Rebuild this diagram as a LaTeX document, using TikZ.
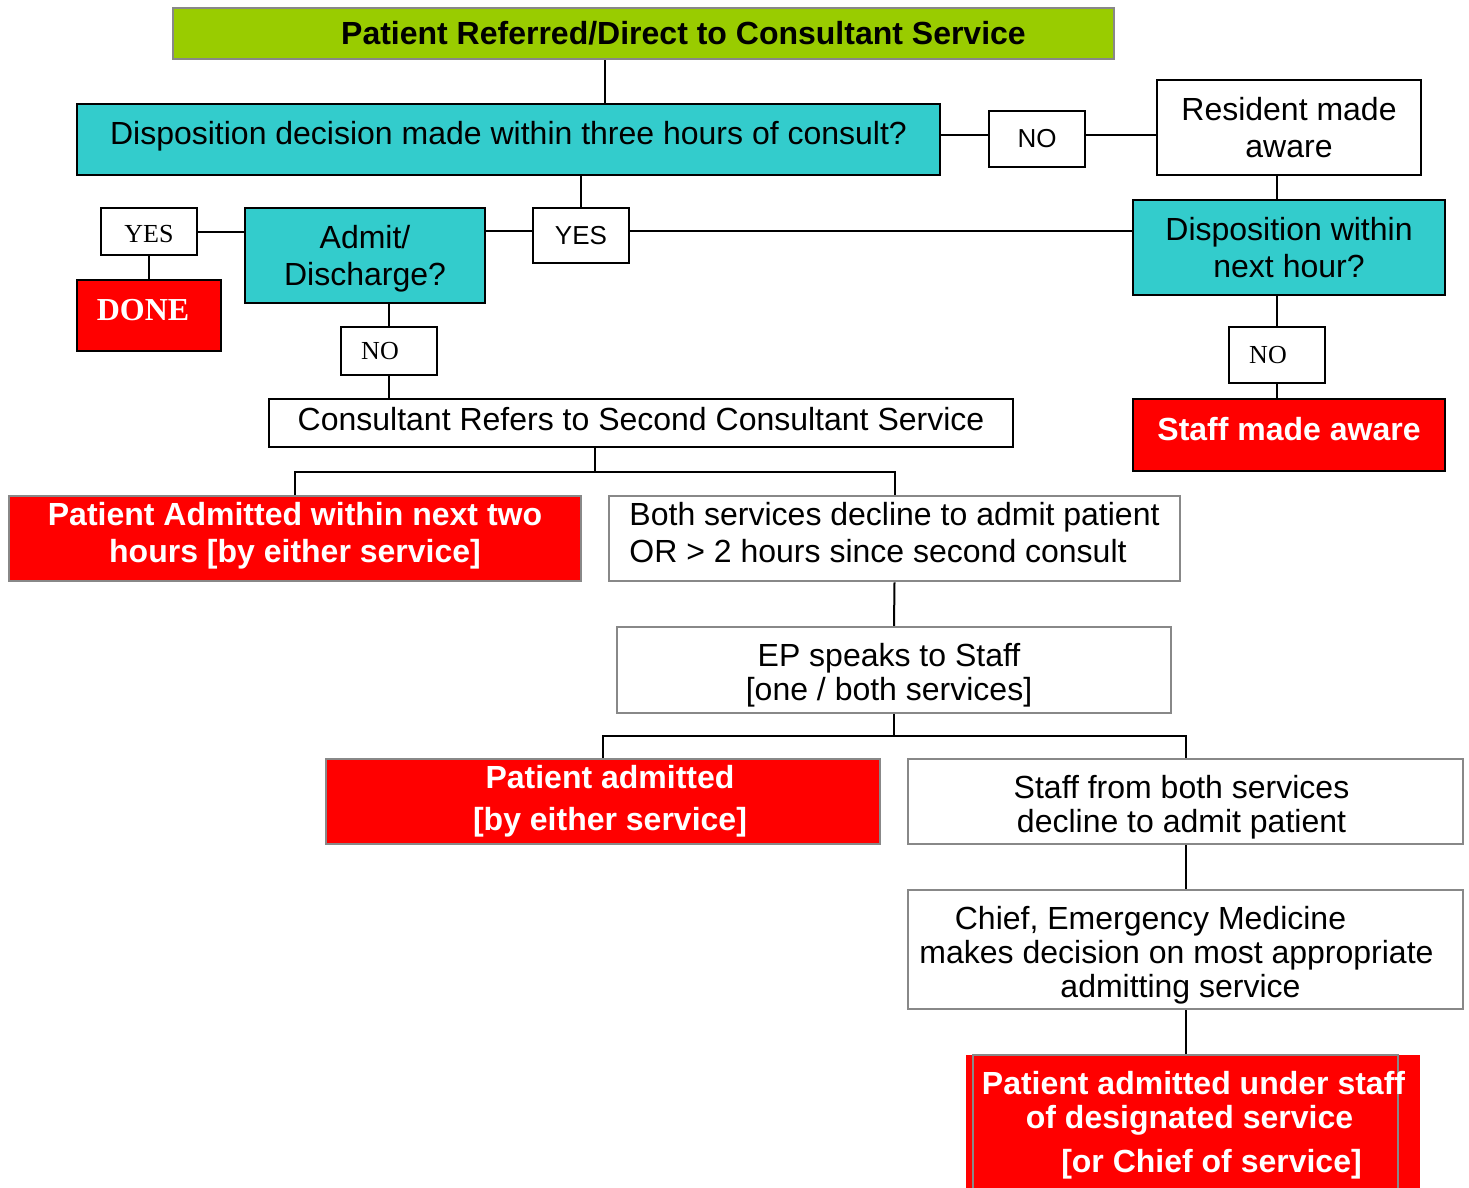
\documentclass[tikz,border=0pt]{standalone}
\usepackage{fontspec}
\setmainfont{Liberation Sans}
\newfontfamily\timesfont{Liberation Serif}
\usepackage{tikz}
\definecolor{qgreen}{HTML}{99CC00}
\definecolor{qteal}{HTML}{33CCCC}
\definecolor{qred}{HTML}{FF0000}
\definecolor{qgray}{HTML}{888888}
% invisible struts to nudge text inside a box
\newcommand{\padtop}[1]{\rule{0pt}{#1}}
\newcommand{\padlow}[1]{\rule[-#1]{0pt}{#1}}

\begin{document}
\begin{tikzpicture}[x=1pt, y=-1pt,
    every node/.style={font=\fontsize{32}{37}\selectfont, inner sep=0pt, align=center},
    link/.style={line width=2pt},
    startbox/.style={draw=qgray, line width=2.5pt, fill=qgreen, font=\fontsize{32}{37}\selectfont\bfseries},
    question/.style={draw=black, line width=2pt, fill=qteal},
    plainbox/.style={draw=black, line width=2pt, fill=white},
    answer/.style={draw=black, line width=2pt, fill=white, font=\fontsize{26}{30}\selectfont},
    answerserif/.style={answer, font=\fontsize{26}{30}\selectfont\timesfont},
    stopbox/.style={draw=black, line width=2pt, fill=qred, text=white, font=\fontsize{32}{37}\selectfont\bfseries},
    stepbox/.style={draw=qgray, line width=2.5pt, fill=white},
    resultbox/.style={draw=qgray, line width=2.5pt, fill=qred, text=white, font=\fontsize{32}{37}\selectfont\bfseries}]
    \useasboundingbox (0,0) rectangle (1469,1187);

    % Start and first question
    \node[startbox, minimum width=941pt, minimum height=51pt] (refer) at (643.5,33.5) {\hspace*{80pt}Patient Referred/Direct to Consultant Service};
    \node[question, minimum width=863pt, minimum height=71pt] (dispdec) at (508.5,139.5) {Disposition decision made within three hours of consult?\padlow{13pt}};

    % Right branch
    \node[answer, minimum width=96pt, minimum height=56pt] (no1) at (1037,139) {NO};
    \node[plainbox, minimum width=264pt, minimum height=95pt] (resident) at (1289,127.5) {Resident made\\aware};
    \node[question, minimum width=312pt, minimum height=95pt] (dispnext) at (1289,247.5) {Disposition within\\next hour?};
    \node[answerserif, minimum width=96pt, minimum height=56pt] (no3) at (1277,355) {NO\hspace*{18pt}};
    \node[stopbox, minimum width=312pt, minimum height=72pt] (staffaware) at (1289,435) {Staff made aware\padlow{12pt}};

    % Left branch
    \node[answer, minimum width=96pt, minimum height=55pt] (yes2) at (581,235.5) {YES};
    \node[question, minimum width=240pt, minimum height=95pt] (admit) at (365,255.5) {\padtop{30pt}Admit/\\Discharge?};
    \node[answerserif, minimum width=96pt, minimum height=47pt] (yes1) at (149,231.5) {\padtop{22pt}YES};
    \node[stopbox, font=\fontsize{32}{37}\selectfont\timesfont\bfseries, minimum width=144pt, minimum height=71pt] (done) at (149,315.5) {DONE\hspace*{12pt}\padlow{11pt}};
    \node[answerserif, minimum width=96pt, minimum height=48pt] (no2) at (389,351) {NO\hspace*{18pt}};

    % Second consultant
    \node[plainbox, minimum width=744pt, minimum height=48pt] (second) at (641,423) {Consultant Refers to Second Consultant Service\padlow{8pt}};
    \node[resultbox, minimum width=572pt, minimum height=85pt] (admittwo) at (295,538.5) {Patient Admitted within next two\\hours [by either service]\padlow{13pt}};
    \node[stepbox, align=left, minimum width=571pt, minimum height=85pt] (decline) at (894.5,538.5) {Both services decline to admit patient\\OR > 2 hours since second consult\padlow{12pt}};

    % Staff level
    \node[stepbox, font=\fontsize{32}{34}\selectfont, minimum width=554pt, minimum height=86pt] (ep) at (894,670) {\padtop{33pt}EP speaks to Staff\hspace*{10pt}\\{[}one / both services{]}\hspace*{10pt}};
    \node[resultbox, font=\fontsize{32}{42}\selectfont\bfseries, minimum width=554pt, minimum height=85pt] (admitted) at (603,801.5) {\hspace*{14pt}Patient admitted\\\hspace*{14pt}{[}by either service{]}};
    \node[stepbox, font=\fontsize{32}{34}\selectfont, minimum width=555pt, minimum height=85pt] (staffdecline) at (1185.5,801.5) {\padtop{35pt}Staff from both services\hspace*{8pt}\\decline to admit patient\hspace*{8pt}};
    \node[stepbox, font=\fontsize{32}{34}\selectfont, minimum width=555pt, minimum height=119pt] (chief) at (1185.5,949.5) {\padtop{35pt}Chief, Emergency Medicine\hspace*{70pt}\\\hspace*{-18pt}makes decision on most appropriate\\admitting service\hspace*{10pt}};

    % Final outcome
    \fill[qred] (966,1055) rectangle (1420,1200);
    \node[resultbox, font=\fontsize{32}{34}\selectfont\bfseries, minimum width=425pt, minimum height=140pt] (final) at (1185.5,1125) {\hspace*{8pt}Patient admitted under staff\hspace*{-8pt}\\\hspace*{8pt}of designated service\hspace*{-8pt}\\[10pt]\hspace*{26pt}{[}or Chief of service{]}\hspace*{-26pt}};

    % Connectors
    \coordinate (split1) at (595,472);
    \coordinate (split2) at (894,736);
    \coordinate (noin) at ([yshift=4pt]no1.west);
    \coordinate (noout) at ([yshift=4pt]no1.east);
    \coordinate (yesin) at ([yshift=4.5pt]yes2.west);
    \coordinate (yesout) at ([yshift=4.5pt]yes2.east);
    \draw[link] (refer.south -| 605,0) -- (dispdec.north -| 605,0);
    \draw[link] (dispdec.east |- noin) -- (noin);
    \draw[link] (noout) -- (noout -| resident.west);
    \draw[link] (resident.south -| no3) -- (dispnext.north -| no3);
    \draw[link] (dispdec.south -| yes2) -- (yes2.north);
    \draw[link] (yesin) -- (yesin -| admit.east);
    \draw[link] (yesout) -- (yesout -| dispnext.west);
    \draw[link] (yes1.east) -- (yes1.east -| admit.west);
    \draw[link] (yes1.south) -- (done.north);
    \draw[link] (admit.south -| no2) -- (no2.north);
    \draw[link] (no2.south) -- (no2.south |- second.north);
    \draw[link] (dispnext.south -| no3) -- (no3.north);
    \draw[link] (no3.south) -- (no3.south |- staffaware.north);
    \draw[link] (second.south -| split1) -- (split1);
    \draw[link] (admittwo.north) |- (split1) -| (decline.north);
    \draw[link] (decline.south) -- (ep.north);
    \draw[link] (ep.south) -- (split2);
    \draw[link] (admitted.north) |- (split2) -| (staffdecline.north);
    \draw[link] (staffdecline.south) -- (chief.north);
    \draw[link] (chief.south) -- (chief.south |- final.north);
\end{tikzpicture}
\end{document}
